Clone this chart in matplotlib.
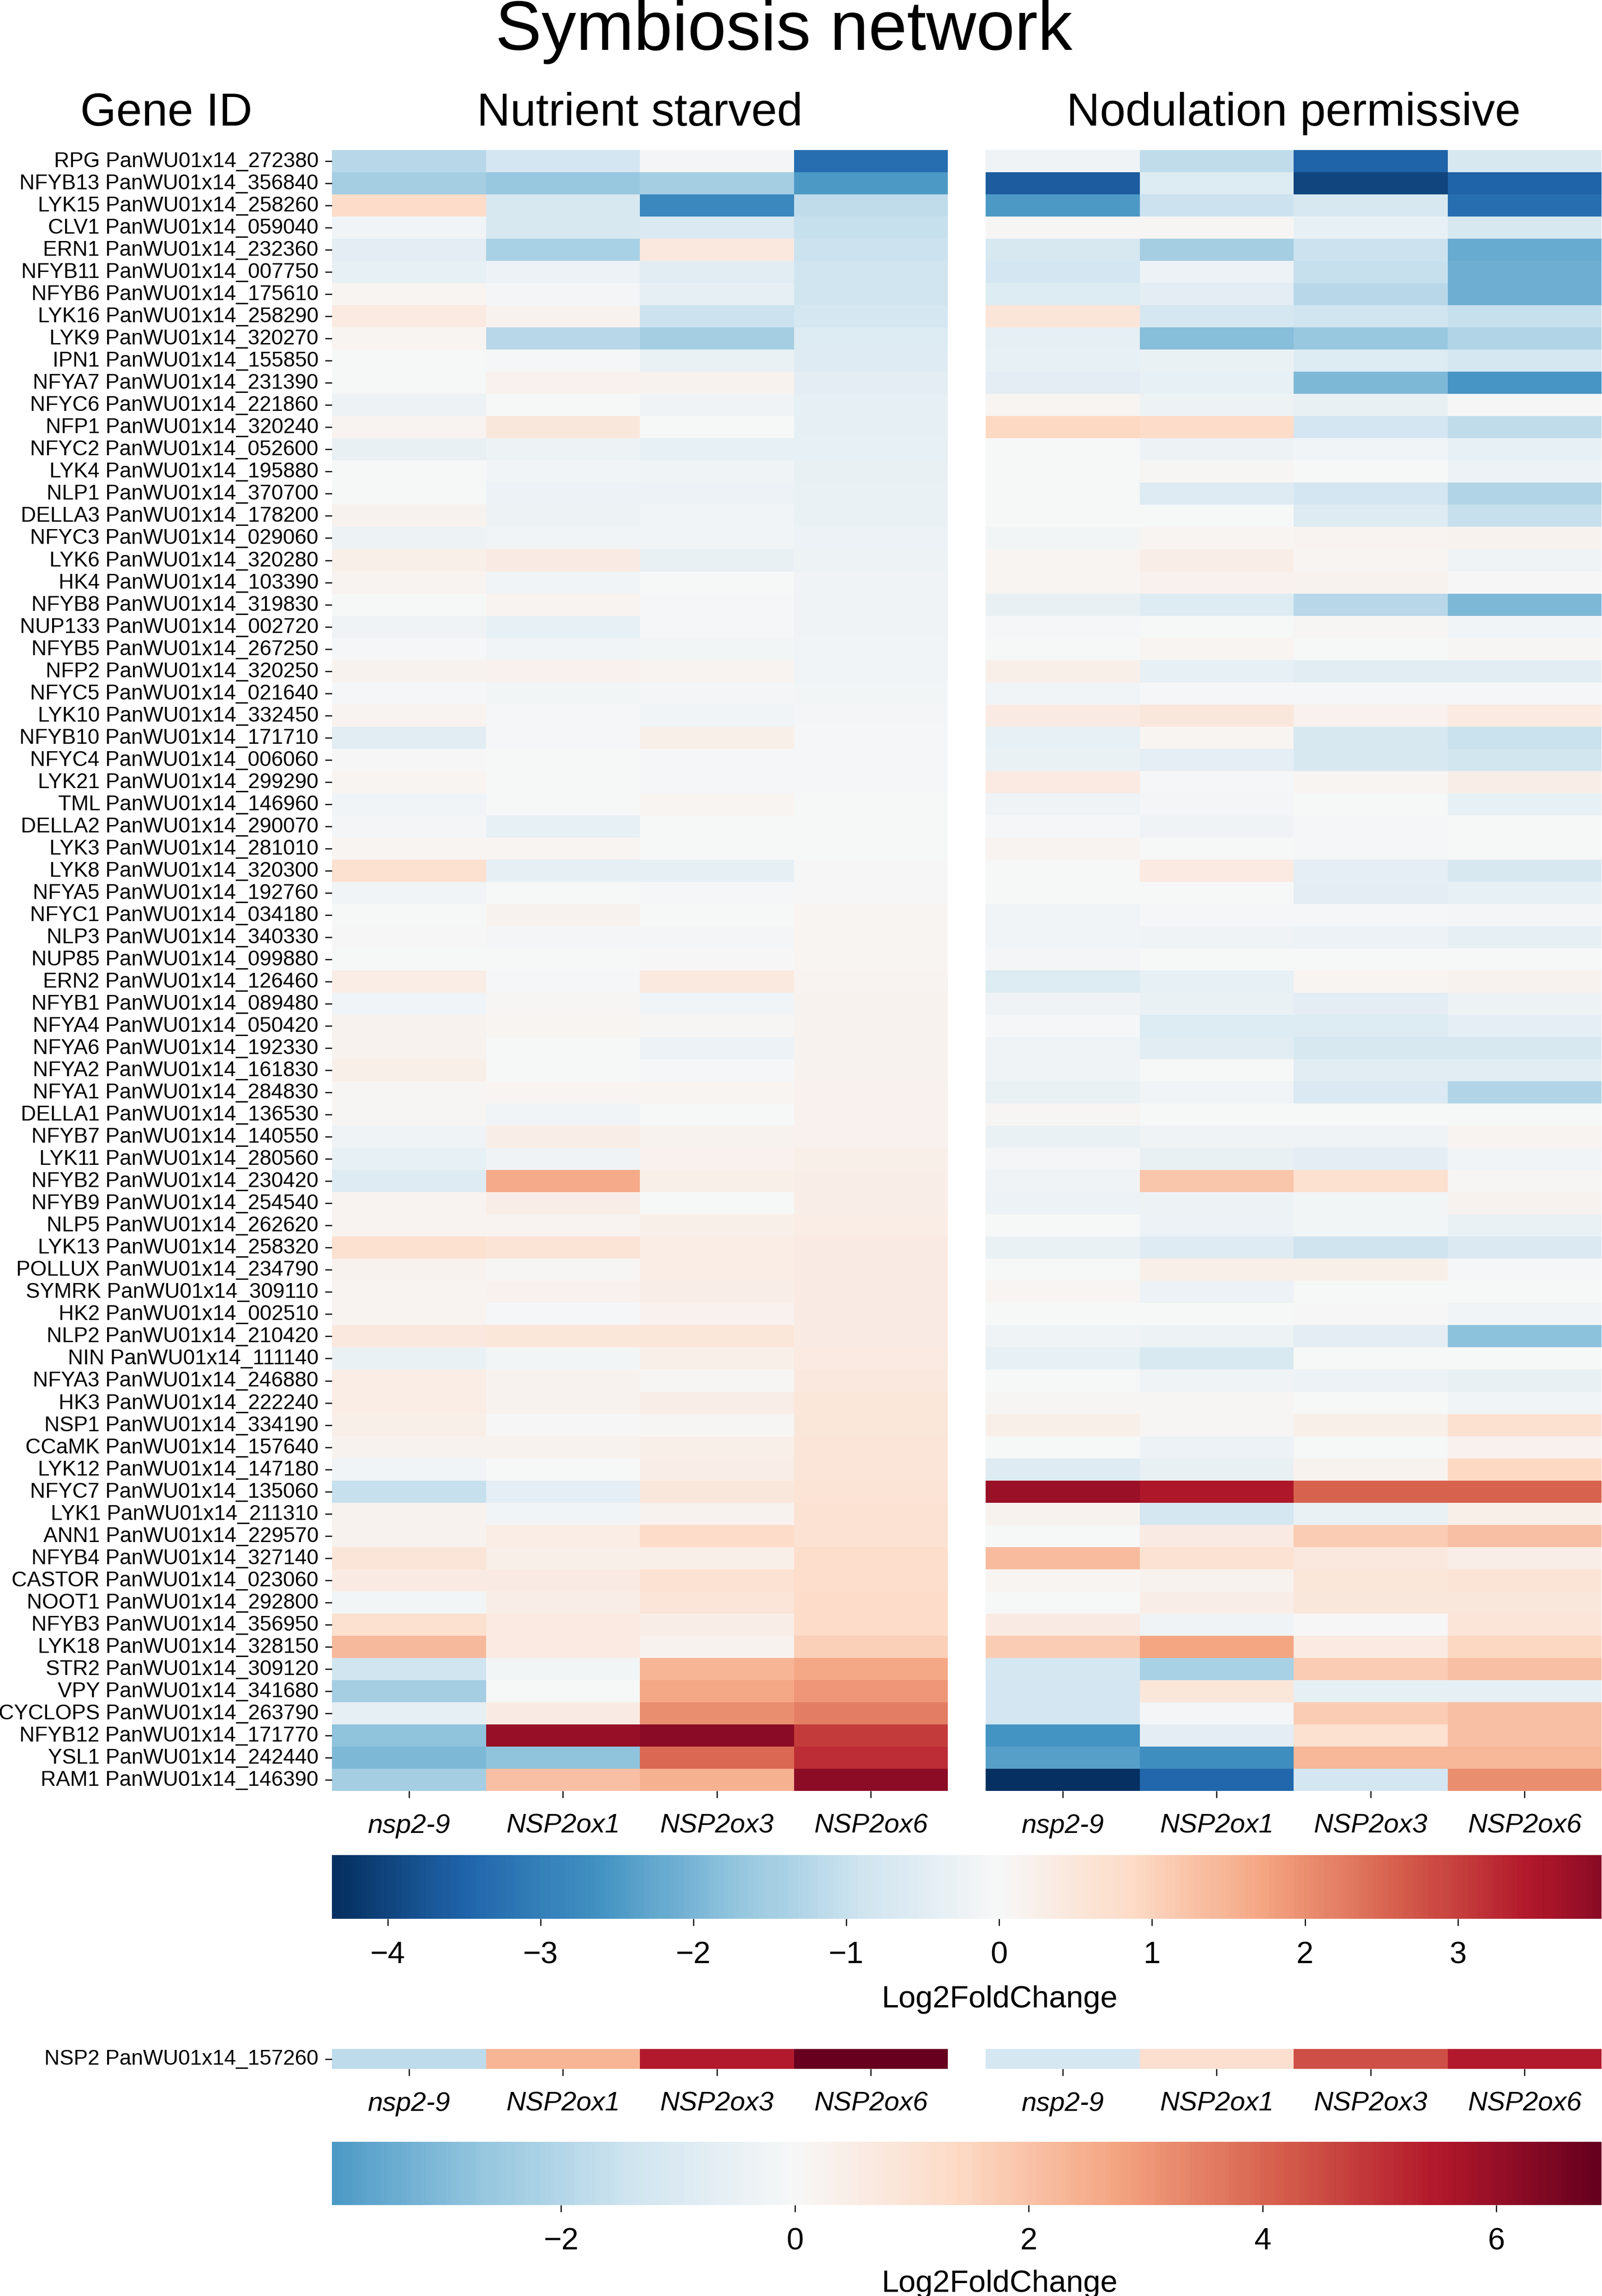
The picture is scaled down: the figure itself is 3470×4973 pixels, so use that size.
import matplotlib
matplotlib.use("Agg")
import matplotlib.pyplot as plt
import pandas as pd
import seaborn as sns

plt.rcParams['font.family'] = ['Liberation Sans', 'DejaVu Sans']

genes = [
    "RPG PanWU01x14_272380", "NFYB13 PanWU01x14_356840", "LYK15 PanWU01x14_258260",
    "CLV1 PanWU01x14_059040", "ERN1 PanWU01x14_232360", "NFYB11 PanWU01x14_007750",
    "NFYB6 PanWU01x14_175610", "LYK16 PanWU01x14_258290", "LYK9 PanWU01x14_320270",
    "IPN1 PanWU01x14_155850", "NFYA7 PanWU01x14_231390", "NFYC6 PanWU01x14_221860",
    "NFP1 PanWU01x14_320240", "NFYC2 PanWU01x14_052600", "LYK4 PanWU01x14_195880",
    "NLP1 PanWU01x14_370700", "DELLA3 PanWU01x14_178200", "NFYC3 PanWU01x14_029060",
    "LYK6 PanWU01x14_320280", "HK4 PanWU01x14_103390", "NFYB8 PanWU01x14_319830",
    "NUP133 PanWU01x14_002720", "NFYB5 PanWU01x14_267250", "NFP2 PanWU01x14_320250",
    "NFYC5 PanWU01x14_021640", "LYK10 PanWU01x14_332450", "NFYB10 PanWU01x14_171710",
    "NFYC4 PanWU01x14_006060", "LYK21 PanWU01x14_299290", "TML PanWU01x14_146960",
    "DELLA2 PanWU01x14_290070", "LYK3 PanWU01x14_281010", "LYK8 PanWU01x14_320300",
    "NFYA5 PanWU01x14_192760", "NFYC1 PanWU01x14_034180", "NLP3 PanWU01x14_340330",
    "NUP85 PanWU01x14_099880", "ERN2 PanWU01x14_126460", "NFYB1 PanWU01x14_089480",
    "NFYA4 PanWU01x14_050420", "NFYA6 PanWU01x14_192330", "NFYA2 PanWU01x14_161830",
    "NFYA1 PanWU01x14_284830", "DELLA1 PanWU01x14_136530", "NFYB7 PanWU01x14_140550",
    "LYK11 PanWU01x14_280560", "NFYB2 PanWU01x14_230420", "NFYB9 PanWU01x14_254540",
    "NLP5 PanWU01x14_262620", "LYK13 PanWU01x14_258320", "POLLUX PanWU01x14_234790",
    "SYMRK PanWU01x14_309110", "HK2 PanWU01x14_002510", "NLP2 PanWU01x14_210420",
    "NIN PanWU01x14_111140", "NFYA3 PanWU01x14_246880", "HK3 PanWU01x14_222240",
    "NSP1 PanWU01x14_334190", "CCaMK PanWU01x14_157640", "LYK12 PanWU01x14_147180",
    "NFYC7 PanWU01x14_135060", "LYK1 PanWU01x14_211310", "ANN1 PanWU01x14_229570",
    "NFYB4 PanWU01x14_327140", "CASTOR PanWU01x14_023060", "NOOT1 PanWU01x14_292800",
    "NFYB3 PanWU01x14_356950", "LYK18 PanWU01x14_328150", "STR2 PanWU01x14_309120",
    "VPY PanWU01x14_341680", "CYCLOPS PanWU01x14_263790", "NFYB12 PanWU01x14_171770",
    "YSL1 PanWU01x14_242440", "RAM1 PanWU01x14_146390",
]
genotypes = ["nsp2-9", "NSP2ox1", "NSP2ox3", "NSP2ox6"]

# Log2FoldChange, nutrient starved
starved_nsp2_9 = [
    -1.2, -1.5, 0.85, -0.15, -0.45, -0.35, 0.1, 0.4, 0.1, -0.05,
    -0.05, -0.22, 0.12, -0.32, 0.0, 0.0, 0.15, -0.22, 0.25, 0.12,
    -0.03, -0.2, -0.08, 0.15, -0.08, 0.12, -0.5, 0.03, 0.1, -0.17,
    -0.1, 0.1, 0.7, -0.18, -0.02, 0.04, 0.0, 0.33, -0.15, 0.17,
    0.15, 0.27, 0.05, 0.05, -0.2, -0.35, -0.55, 0.12, 0.12, 0.7,
    0.15, 0.12, 0.12, 0.45, -0.28, 0.33, 0.33, 0.25, 0.15, -0.15,
    -1.0, 0.17, 0.15, 0.55, 0.37, -0.12, 0.68, 1.4, -0.87, -1.5,
    -0.4, -1.75, -1.95, -1.5,
]
starved_ox1 = [
    -0.8, -1.65, -0.7, -0.75, -1.4, -0.25, -0.1, 0.15, -1.2, -0.08,
    0.2, 0.0, 0.5, -0.22, -0.18, -0.25, -0.22, -0.18, 0.35, -0.15,
    0.12, -0.37, -0.18, 0.2, -0.14, -0.08, -0.08, 0.0, -0.02, -0.02,
    -0.35, 0.1, -0.4, -0.02, 0.17, -0.1, -0.05, -0.08, 0.05, 0.1,
    -0.02, -0.01, 0.1, -0.18, 0.28, -0.2, 1.65, 0.28, 0.13, 0.58,
    0.07, 0.2, -0.07, 0.52, -0.13, 0.17, 0.17, 0.04, 0.17, -0.05,
    -0.42, -0.18, 0.32, 0.27, 0.35, 0.3, 0.4, 0.4, -0.12, 0.0,
    0.37, 3.8, -1.75, 1.3,
]
starved_ox3 = [
    -0.1, -1.5, -2.8, -0.65, 0.45, -0.5, -0.4, -0.95, -1.5, -0.3,
    0.15, -0.2, -0.05, -0.35, -0.2, -0.25, -0.18, -0.18, -0.33, -0.02,
    -0.08, -0.08, -0.12, 0.12, -0.1, -0.15, 0.25, -0.08, -0.08, 0.1,
    -0.02, -0.02, -0.4, -0.08, -0.02, -0.1, 0.03, 0.42, -0.17, 0.07,
    -0.25, -0.07, 0.08, 0.01, 0.15, 0.2, 0.27, 0.0, 0.25, 0.33,
    0.33, 0.3, 0.2, 0.52, 0.27, 0.07, 0.3, 0.05, 0.25, 0.3,
    0.48, 0.15, 0.85, 0.27, 0.65, 0.55, 0.3, 0.17, 1.5, 1.7,
    2.0, 3.94, 2.5, 1.55,
]
starved_ox6 = [
    -3.3, -2.5, -1.1, -1.0, -0.95, -0.87, -0.87, -0.78, -0.6, -0.55,
    -0.45, -0.4, -0.4, -0.35, -0.33, -0.3, -0.28, -0.25, -0.22, -0.2,
    -0.2, -0.2, -0.18, -0.17, -0.14, -0.1, -0.08, -0.08, -0.06, -0.01,
    0.0, 0.01, 0.02, 0.03, 0.08, 0.1, 0.1, 0.13, 0.15, 0.15,
    0.17, 0.17, 0.18, 0.2, 0.2, 0.25, 0.3, 0.3, 0.32, 0.35,
    0.35, 0.35, 0.35, 0.36, 0.38, 0.45, 0.52, 0.52, 0.55, 0.55,
    0.58, 0.65, 0.65, 0.8, 0.82, 0.83, 0.85, 1.05, 1.7, 1.9,
    2.25, 3.05, 3.2, 3.9,
]

# Log2FoldChange, nodulation permissive
nodulation_nsp2_9 = [
    -0.2, -3.65, -2.5, 0.05, -0.75, -0.8, -0.6, 0.55, -0.4, -0.35,
    -0.45, 0.1, 0.9, -0.05, -0.03, -0.05, -0.05, -0.12, 0.1, 0.08,
    -0.33, -0.08, -0.02, 0.25, -0.15, 0.35, -0.37, -0.28, 0.4, -0.2,
    -0.06, 0.12, -0.04, -0.02, -0.18, -0.17, -0.1, -0.6, -0.2, -0.08,
    -0.2, -0.2, -0.3, 0.07, -0.28, -0.1, -0.2, -0.25, -0.02, -0.28,
    -0.03, 0.08, -0.02, -0.2, -0.37, -0.05, 0.07, 0.25, 0.01, -0.55,
    3.75, 0.17, -0.02, 1.35, 0.08, -0.05, 0.35, 1.1, -0.78, -0.8,
    -0.8, -2.6, -2.4, -4.365,
]
nodulation_ox1 = [
    -1.1, -0.6, -0.95, 0.05, -1.5, -0.25, -0.45, -0.78, -1.85, -0.3,
    -0.35, -0.22, 0.85, -0.22, 0.05, -0.55, -0.05, 0.1, 0.3, 0.2,
    -0.6, -0.02, 0.1, -0.37, -0.08, 0.5, 0.08, -0.43, -0.08, -0.1,
    -0.2, -0.03, 0.4, -0.05, -0.08, -0.2, -0.05, -0.35, -0.3, -0.58,
    -0.5, -0.05, -0.18, -0.05, -0.2, -0.33, 1.2, -0.22, -0.25, -0.55,
    0.25, -0.25, -0.01, -0.22, -0.68, -0.2, 0.07, 0.05, -0.25, -0.33,
    3.5, -0.78, 0.37, 0.65, 0.17, 0.28, -0.2, 1.73, -1.4, 0.52,
    -0.1, -0.45, -2.7, -3.45,
]
nodulation_ox3 = [
    -3.5, -4.0, -0.75, -0.35, -0.95, -1.0, -1.2, -0.87, -1.65, -0.6,
    -1.95, -0.33, -0.8, -0.18, -0.05, -0.8, -0.55, 0.12, 0.1, 0.17,
    -1.2, 0.05, 0.0, -0.5, -0.08, 0.2, -0.75, -0.75, 0.1, -0.05,
    -0.08, -0.08, -0.42, -0.47, -0.08, -0.25, -0.01, 0.1, -0.45, -0.6,
    -0.72, -0.5, -0.65, -0.05, -0.2, -0.45, 0.7, -0.13, -0.12, -0.9,
    0.25, -0.02, 0.03, -0.45, -0.05, -0.25, -0.02, 0.25, 0.0, 0.15,
    2.55, -0.28, 1.1, 0.45, 0.52, 0.5, 0.04, 0.4, 1.1, -0.4,
    1.1, 0.7, 1.45, -0.8,
]
nodulation_ox6 = [
    -0.75, -3.5, -3.3, -0.7, -2.2, -2.1, -2.1, -1.0, -1.3, -0.78,
    -2.55, 0.03, -1.1, -0.35, -0.25, -1.3, -1.0, 0.15, -0.2, 0.03,
    -1.95, -0.17, 0.05, -0.5, -0.08, 0.4, -0.97, -0.85, 0.3, -0.37,
    0.0, -0.05, -0.75, -0.35, -0.1, -0.4, -0.02, 0.15, -0.22, -0.42,
    -0.72, -0.5, -1.3, -0.05, 0.12, -0.17, 0.05, 0.17, -0.28, -0.65,
    -0.08, -0.05, -0.15, -1.8, -0.05, -0.32, -0.15, 0.68, 0.18, 0.9,
    2.55, 0.25, 1.3, 0.3, 0.58, 0.5, 0.55, 0.95, 1.3, -0.4,
    1.3, 1.3, 1.45, 2.0,
]

nsp2_gene = "NSP2 PanWU01x14_157260"
nsp2_starved = [-1.8, 2.35, 5.5, 6.9]
nsp2_nodulation = [-1.24, 1.17, 4.4, 5.5]
nsp2_scale = (-3.96, 6.9)

W, H, DPI = 3470, 4974, 300


def box(x0, y0, x1, y1):
    # pixel box (top-left origin) -> figure fraction rect
    return [x0 / W, 1 - y1 / H, (x1 - x0) / W, (y1 - y0) / H]


def style_heatmap(ax, show_y):
    ax.tick_params(axis='x', labelsize=14, length=3.5, width=0.6, pad=8)
    for lbl in ax.get_xticklabels():
        lbl.set_style('italic')
        lbl.set_rotation(0)
    if show_y:
        ax.tick_params(axis='y', labelsize=11, length=3.5, width=0.6, pad=3.5)
        for lbl in ax.get_yticklabels():
            lbl.set_rotation(0)
    ax.set_xlabel("")
    ax.set_ylabel("")


def style_cbar(cb, ticks):
    cb.set_ticks(ticks)
    cb.outline.set_linewidth(0)
    cb.ax.tick_params(labelsize=16, length=3.5, width=0.6, pad=7.8)


starved = pd.DataFrame(dict(zip(genotypes, [starved_nsp2_9, starved_ox1, starved_ox3, starved_ox6])), index=genes)
nodulation = pd.DataFrame(dict(zip(genotypes, [nodulation_nsp2_9, nodulation_ox1, nodulation_ox3, nodulation_ox6])), index=genes)
vmin = min(starved.values.min(), nodulation.values.min())
vmax = max(starved.values.max(), nodulation.values.max())

fig = plt.figure(figsize=(W / DPI, H / DPI), dpi=DPI)

ax_s = fig.add_axes(box(719, 326, 2053, 3880))
ax_n = fig.add_axes(box(2135, 326, 3469, 3880))
cax1 = fig.add_axes(box(719, 4019, 3469, 4157))

sns.heatmap(starved, ax=ax_s, cmap='RdBu_r', center=0, vmin=vmin, vmax=vmax,
            cbar=True, cbar_ax=cax1, cbar_kws={'orientation': 'horizontal'},
            yticklabels=True)
sns.heatmap(nodulation, ax=ax_n, cmap='RdBu_r', center=0, vmin=vmin, vmax=vmax,
            cbar=False, yticklabels=False)
style_heatmap(ax_s, True)
style_heatmap(ax_n, False)
style_cbar(ax_s.collections[0].colorbar, list(range(-4, 4)))

ax_s.set_title("Nutrient starved", fontsize=24, pad=13)
ax_n.set_title("Nodulation permissive", fontsize=24, pad=13)

# NSP2 itself, on its own scale
ax_s2 = fig.add_axes(box(719, 4439, 2053, 4482))
ax_n2 = fig.add_axes(box(2135, 4439, 3469, 4482))
cax2 = fig.add_axes(box(719, 4640, 3469, 4777))
nsp2_s = pd.DataFrame([nsp2_starved], index=[nsp2_gene], columns=genotypes)
nsp2_n = pd.DataFrame([nsp2_nodulation], index=[nsp2_gene], columns=genotypes)
sns.heatmap(nsp2_s, ax=ax_s2, cmap='RdBu_r', center=0, vmin=nsp2_scale[0], vmax=nsp2_scale[1],
            cbar=True, cbar_ax=cax2, cbar_kws={'orientation': 'horizontal'}, yticklabels=True)
sns.heatmap(nsp2_n, ax=ax_n2, cmap='RdBu_r', center=0, vmin=nsp2_scale[0], vmax=nsp2_scale[1],
            cbar=False, yticklabels=False)
style_heatmap(ax_s2, True)
style_heatmap(ax_n2, False)
style_cbar(ax_s2.collections[0].colorbar, [-2, 0, 2, 4, 6])

fig.text(1698 / W, 1 - 108 / H, "Symbiosis network", fontsize=36, ha='center', va='baseline')
fig.text(360 / W, 1 - 272 / H, "Gene ID", fontsize=24, ha='center', va='baseline')
fig.text(2165 / W, 1 - 4348 / H, "Log2FoldChange", fontsize=16, ha='center', va='baseline')
fig.text(2165 / W, 1 - 4964 / H, "Log2FoldChange", fontsize=16, ha='center', va='baseline')

fig.savefig("out.png", dpi=DPI)
